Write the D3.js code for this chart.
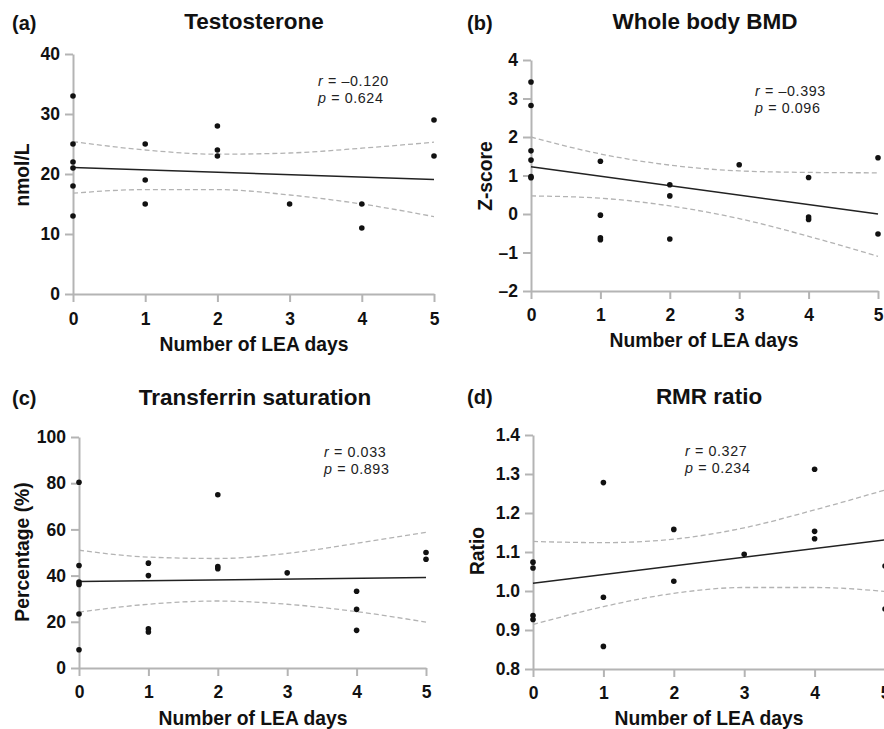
<!DOCTYPE html>
<html>
<head>
<meta charset="utf-8">
<script src="https://cdn.jsdelivr.net/npm/d3@7"></script>
<style>
  body { margin:0; background:#fff; }
  svg { font-family: "Liberation Sans", Arial, sans-serif; }
  .tick text { font-size:17.5px; font-weight:bold; fill:#111; }
  .axis path, .axis line { stroke:#b4b4b4; stroke-width:2; }
  .ttl { font-size:22.5px; font-weight:bold; fill:#111; }
  .lab { font-size:20px; font-weight:bold; fill:#111; }
  .atitle { font-size:19.3px; font-weight:bold; fill:#111; }
  .stat { font-size:14.3px; letter-spacing:0.6px; fill:#222; }
</style>
</head>
<body>
<svg id="chart" width="884" height="729"></svg>
<script>
// LEA days on x for every panel
var xTicks = [0,1,2,3,4,5];
var ciX = [0,1,2,3,4,5];
var fitX = [0,5];

// (a) testosterone
var testoX = [0,0,0,0,0,0, 1,1,1, 2,2,2, 3, 4,4, 5,5];
var testoY = [33,25,22,21,18,13, 25,19,15, 28,24,23, 15, 15,11, 29,23];
var testoFit = [21.1,19.1];
var testoUpper = [25.4,24.0,23.3,23.5,24.3,25.3];
var testoLower = [16.8,17.4,17.4,16.5,15.0,12.9];
var testoTicks = [0,10,20,30,40];

// (b) whole body BMD
var bmdX = [0,0,0,0,0,0, 1,1,1,1, 2,2,2, 3, 4,4,4, 5,5];
var bmdY = [3.43,2.82,1.64,1.40,0.97,0.94, 1.37,-0.03,-0.62,-0.67, 0.76,0.47,-0.65, 1.28, 0.95,-0.08,-0.14, 1.46,-0.52];
var bmdFit = [1.23,0.0];
var bmdUpper = [2.0,1.56,1.27,1.12,1.08,1.07];
var bmdLower = [0.47,0.41,0.21,-0.12,-0.58,-1.10];
var bmdTicks = [-2,-1,0,1,2,3,4];

// (c) transferrin saturation
var tsatX = [0,0,0,0,0,0, 1,1,1,1, 2,2,2, 3, 4,4,4, 5,5];
var tsatY = [80.4,44.4,37.2,36.2,23.4,7.9, 45.4,40.0,17.0,15.6, 75.0,43.9,43.0, 41.2, 33.2,25.4,16.3, 50.0,47.1];
var tsatFit = [37.4,39.2];
var tsatUpper = [51.0,48.0,47.4,49.6,54.0,58.7];
var tsatLower = [24.2,27.6,29.0,27.6,24.4,19.9];
var tsatTicks = [0,20,40,60,80,100];

// (d) RMR ratio
var rmrX = [0,0,0,0, 1,1,1, 2,2, 3, 4,4,4, 5,5];
var rmrY = [1.074,1.059,0.937,0.927, 1.278,0.984,0.858, 1.158,1.025, 1.094, 1.312,1.153,1.134, 1.064,0.954];
var rmrFit = [1.020,1.131];
var rmrUpper = [1.127,1.124,1.133,1.162,1.208,1.259];
var rmrLower = [0.914,0.960,0.994,1.009,1.009,0.999];
var rmrTicks = [0.8,0.9,1.0,1.1,1.2,1.3,1.4];

var svg = d3.select("#chart");

var drawPanel = function(p)
{
    var xScale = d3.scaleLinear().domain([0,5]).range([p.left,p.right]);
    var yScale = d3.scaleLinear().domain([p.ticks[0],p.ticks[p.ticks.length-1]])
        .range([p.bottom,p.top]);

    var g = svg.append("g");

    g.append("g")
        .attr("class","axis")
        .attr("transform","translate(0,"+p.bottom+")")
        .call(d3.axisBottom(xScale).tickValues(xTicks).tickSize(8).tickSizeOuter(0)
              .tickPadding(p.xpad).tickFormat(d3.format("d")))
    g.append("g")
        .attr("class","axis")
        .attr("transform","translate("+p.left+",0)")
        .call(d3.axisLeft(yScale).tickValues(p.ticks).tickSize(8).tickSizeOuter(0).tickPadding(5)
              .tickFormat(p.fmt))
    g.selectAll(".tick text").text(function(){ return d3.select(this).text().replace("−","–"); });

    var ciLine = d3.line()
        .x(function(d,i){ return xScale(ciX[i]); })
        .y(function(d){ return yScale(d); })
        .curve(d3.curveMonotoneX);

    [p.upper,p.lower].forEach(function(ci)
    {
        g.append("path")
            .datum(ci)
            .attr("d",ciLine)
            .attr("fill","none")
            .attr("stroke","#b3b3b3")
            .attr("stroke-width",1.3)
            .attr("stroke-dasharray","5,3");
    })

    g.append("path")
        .datum(p.fit)
        .attr("d",d3.line()
              .x(function(d,i){ return xScale(fitX[i]); })
              .y(function(d){ return yScale(d); }))
        .attr("fill","none")
        .attr("stroke","#222")
        .attr("stroke-width",1.5);

    g.selectAll("circle")
        .data(p.ys)
        .enter()
        .append("circle")
        .attr("cx",function(d,i){ return xScale(p.xs[i]); })
        .attr("cy",function(d){ return yScale(d); })
        .attr("r",2.8)
        .attr("fill","#111");

    g.append("text").attr("class","lab").attr("x",p.lx).attr("y",p.ly).text(p.letter);
    g.append("text").attr("class","ttl").attr("text-anchor","middle")
        .attr("x",p.tx).attr("y",p.ty).text(p.title);
    g.append("text").attr("class","atitle").attr("text-anchor","middle")
        .attr("x",p.xlx).attr("y",p.xly).text("Number of LEA days");
    g.append("g")
        .attr("transform","translate("+p.ylx+","+p.yly+")")
        .append("text").attr("class","atitle").attr("text-anchor","middle")
        .attr("transform","rotate(-90)").attr("dy","0.35em").text(p.ylabel);

    var st = g.append("text").attr("class","stat").attr("x",p.sx).attr("y",p.sy);
    st.append("tspan").attr("font-style","italic").text("r");
    st.append("tspan").text(" = "+p.r);
    var sp = g.append("text").attr("class","stat").attr("x",p.sx).attr("y",p.sy+16.5);
    sp.append("tspan").attr("font-style","italic").text("p");
    sp.append("tspan").text(" = "+p.p);
}

drawPanel({xs:testoX,ys:testoY,fit:testoFit,upper:testoUpper,lower:testoLower,ticks:testoTicks,
    fmt:d3.format("d"),left:73,right:434,top:54,bottom:294,xpad:11,
    letter:"(a)",lx:12,ly:30,title:"Testosterone",tx:254,ty:29,xlx:254,xly:351,ylabel:"nmol/L",ylx:22,yly:175,
    sx:318,sy:86,r:"–0.120",p:"0.624"});

drawPanel({xs:bmdX,ys:bmdY,fit:bmdFit,upper:bmdUpper,lower:bmdLower,ticks:bmdTicks,
    fmt:d3.format("d"),left:531,right:878,top:60,bottom:291,xpad:10,
    letter:"(b)",lx:467,ly:30,title:"Whole body BMD",tx:705,ty:29,xlx:704,xly:347,ylabel:"Z-score",ylx:485,yly:176,
    sx:755,sy:96,r:"–0.393",p:"0.096"});

drawPanel({xs:tsatX,ys:tsatY,fit:tsatFit,upper:tsatUpper,lower:tsatLower,ticks:tsatTicks,
    fmt:d3.format("d"),left:79,right:426,top:437,bottom:668,xpad:10,
    letter:"(c)",lx:12,ly:405,title:"Transferrin saturation",tx:255,ty:405,xlx:253,xly:725,ylabel:"Percentage (%)",ylx:22,yly:552,
    sx:324,sy:457,r:"0.033",p:"0.893"});

drawPanel({xs:rmrX,ys:rmrY,fit:rmrFit,upper:rmrUpper,lower:rmrLower,ticks:rmrTicks,
    fmt:d3.format(".1f"),left:533,right:885,top:435,bottom:669,xpad:10,
    letter:"(d)",lx:467,ly:404,title:"RMR ratio",tx:709,ty:404,xlx:709,xly:725,ylabel:"Ratio",ylx:477,yly:551,
    sx:685,sy:456,r:"0.327",p:"0.234"});
</script>
</body>
</html>
